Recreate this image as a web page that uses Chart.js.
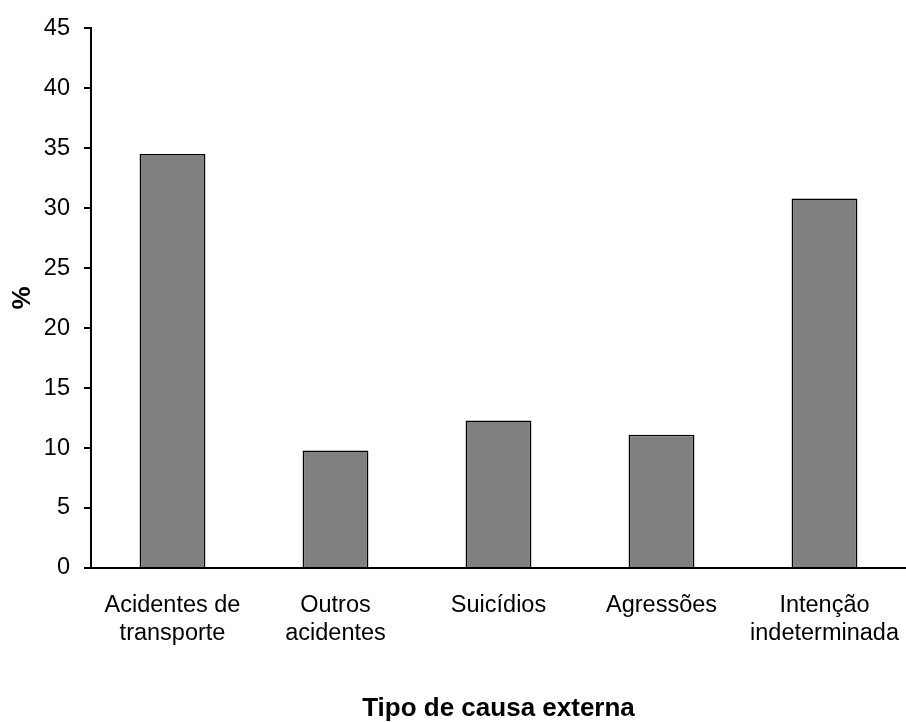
<!DOCTYPE html>
<html>
<head>
<meta charset="utf-8">
<script src="https://cdn.jsdelivr.net/npm/chart.js@4.4.0/dist/chart.umd.min.js"></script>
<style>
  html, body { margin: 0; padding: 0; background: #fff; }
  #wrap { width: 906px; height: 722px; }
</style>
</head>
<body>
<div id="wrap"><canvas id="chart"></canvas></div>
<script>
// categorias (eixo x) e valores em %
const categorias = [
  ['Acidentes de', 'transporte'],
  ['Outros', 'acidentes'],
  'Suicídios',
  'Agressões',
  ['Intenção', 'indeterminada']
];
const percentuais = [34.5, 9.8, 12.3, 11.1, 30.8];
const yTicks = [0, 5, 10, 15, 20, 25, 30, 35, 40, 45];

const fonte = 'Arial, "Liberation Sans", Helvetica, sans-serif';

const ctx = document.getElementById('chart').getContext('2d');
new Chart(ctx, {
  type: 'bar',
  data: {
    labels: categorias,
    datasets: [{
      data: percentuais,
      backgroundColor: '#808080',
      borderColor: '#000',
      borderWidth: 1.5,
      barPercentage: 0.404,
      categoryPercentage: 1
    }]
  },
  options: {
    responsive: true,
    maintainAspectRatio: false,
    animation: false,
    layout: { padding: { top: 26, right: -2, left: 0, bottom: 0 } },
    plugins: {
      legend: { display: false },
      tooltip: { enabled: false }
    },
    scales: {
      x: {
        grid: { display: false },
        border: { display: true, color: '#000', width: 2 },
        ticks: {
          color: '#000',
          padding: 16,
          maxRotation: 0,
          autoSkip: false,
          font: { family: fonte, size: 23.5, lineHeight: 1.17 }
        },
        title: {
          display: true,
          text: 'Tipo de causa externa',
          color: '#000',
          padding: { top: 0, bottom: 0 },
          font: { family: fonte, size: 26, weight: 'bold', lineHeight: 1 }
        },
        afterFit: (scale) => {
          scale.height = 154;
          scale.paddingLeft = 0;
          scale.paddingRight = 0;
        }
      },
      y: {
        min: 0,
        max: 45,
        afterBuildTicks: (scale) => { scale.ticks = yTicks.map(v => ({ value: v })); },
        grid: {
          display: true,
          drawOnChartArea: false,
          drawTicks: true,
          tickLength: 7,
          color: '#000',
          lineWidth: 2
        },
        border: { display: true, color: '#000', width: 2 },
        ticks: {
          color: '#000',
          padding: 14,
          font: { family: fonte, size: 23.5 }
        },
        title: {
          display: true,
          text: '%',
          color: '#000',
          padding: { top: 10, bottom: 0 },
          font: { family: fonte, size: 26, weight: 'bold', lineHeight: 1 }
        },
        afterFit: (scale) => { scale.width = 91; }
      }
    }
  }
});
</script>
</body>
</html>
